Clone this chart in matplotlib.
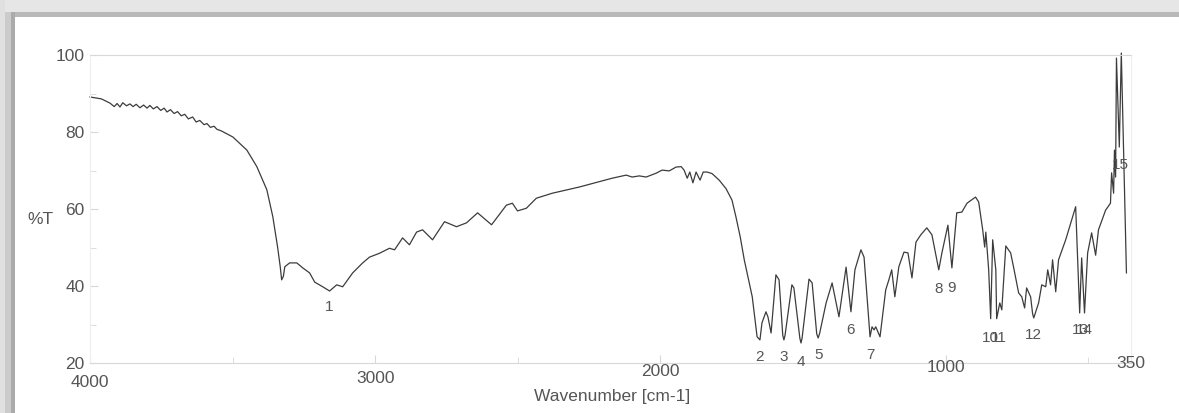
import matplotlib
matplotlib.use("Agg")
import matplotlib.pyplot as plt
from matplotlib.patches import Rectangle
from matplotlib.ticker import FixedLocator

plt.rcParams.update({
    "font.family": ["Liberation Sans", "DejaVu Sans"],
    "font.size": 12.5,
})

TEXT_COLOR = "#555555"
LINE_COLOR = "#3c3c3c"
FRAME_COLOR = "#d8d8d8"

# IR spectrum: wavenumber (cm-1) and transmittance (%T)
wavenumber = [
    4000, 3960, 3930, 3915, 3905, 3895, 3885, 3872, 3860, 3849, 3838, 3825,
    3812, 3800, 3790, 3778, 3765, 3752, 3740, 3730, 3718, 3705, 3693, 3680,
    3668, 3655, 3640, 3628, 3615, 3600, 3590, 3578, 3565, 3555, 3540, 3499,
    3450, 3415, 3380, 3359, 3342, 3333, 3328, 3322, 3317, 3300, 3275, 3254,
    3230, 3212, 3184, 3160, 3135, 3114, 3079, 3044, 3020, 2985, 2950, 2932,
    2904, 2880, 2855, 2834, 2799, 2757, 2715, 2680, 2641, 2592, 2540, 2519,
    2501, 2470, 2435, 2379, 2285, 2169, 2120, 2099, 2074, 2050, 2015, 1994,
    1969, 1945, 1927, 1917, 1906, 1897, 1886, 1875, 1861, 1850, 1836, 1819,
    1794, 1770, 1749, 1735, 1720, 1706, 1696, 1678, 1661, 1651, 1644, 1630,
    1623, 1612, 1595, 1584, 1571, 1567, 1563, 1539, 1532, 1511, 1507, 1503,
    1479, 1468, 1452, 1447, 1442, 1419,
    1398, 1374, 1349, 1332, 1318, 1297, 1286, 1265, 1258, 1251, 1245, 1230,
    1210, 1199, 1189, 1178, 1164, 1146, 1132, 1118, 1104, 1087, 1066, 1048,
    1024, 1013, 992, 978, 961, 943, 925, 895, 884, 870, 863, 859,
    849, 842, 835, 824, 821, 810, 803, 789, 772, 762, 744, 733,
    723, 716, 702, 695, 691, 687, 674, 663, 649, 642, 632, 625, 614, 604,
    579, 544, 530, 523, 513, 502, 488, 474, 464, 439, 422, 418,
    411, 408, 404, 401, 391, 384, 366,
]
transmittance = [
    89.1, 88.6, 87.5, 86.6, 87.4, 86.5, 87.6, 86.8, 87.3, 86.6, 87.2, 86.3,
    87.0, 86.2, 86.9, 86.0, 86.6, 85.6, 86.2, 85.2, 85.8, 84.8, 85.3, 84.2,
    84.6, 83.4, 83.9, 82.6, 83.0, 81.9, 82.2, 81.2, 81.5, 80.7, 80.3, 78.7,
    75.3, 71.0, 65.0, 58.0, 50.0, 45.0, 41.6, 42.5, 45.0, 46.0, 46.0, 44.7,
    43.4, 41.0, 39.8, 38.7, 40.3, 39.8, 43.4, 46.0, 47.5, 48.5, 49.8, 49.4,
    52.5, 50.7, 54.0, 54.6, 52.0, 56.7, 55.4, 56.4, 59.0, 55.9, 61.0, 61.5,
    59.5, 60.2, 62.8, 64.1, 65.7, 68.0, 68.8, 68.3, 68.6, 68.3, 69.3, 70.1,
    69.9, 70.9, 71.0, 70.1, 68.0, 69.6, 66.8, 69.6, 67.5, 69.6, 69.6, 69.2,
    67.5, 65.3, 62.3, 57.9, 52.7, 46.8, 43.4, 37.2, 26.8, 26.0, 30.4, 33.3,
    32.0, 27.8, 42.9, 41.6, 27.2, 26.0, 27.2, 40.3, 39.5, 26.4, 25.2, 26.6,
    41.8, 40.8, 27.6, 26.5, 27.6, 35.6,
    40.8, 32.0, 44.9, 33.3, 44.2, 49.4, 47.5, 26.8, 29.4, 28.6, 29.4, 26.8,
    39.0, 41.6, 44.2, 37.2, 45.0, 48.8, 48.6, 42.1, 51.4, 53.3, 55.1, 53.3,
    44.2, 48.6, 55.8, 44.7, 59.0, 59.2, 61.5, 63.1, 61.8, 54.6, 50.1, 54.0,
    44.2, 31.5, 52.0, 44.2, 31.5, 35.6, 33.8, 50.4, 48.6, 45.0, 38.2, 37.2,
    34.3, 39.5, 37.2, 32.8, 31.7, 32.6, 35.6, 40.3, 39.8, 44.2, 40.3, 46.8,
    38.5, 46.8,
    52.0, 60.6, 33.0, 47.3, 33.0, 48.6, 53.8, 48.0, 54.6, 59.7, 61.5, 69.4,
    64.1, 75.3, 68.3, 99.2, 76.1, 100.5, 43.4,
]

# numbered band labels
peak_numbers = ["1", "2", "3", "4", "5", "6", "7", "8", "9", "10", "11",
                "12", "13", "14", "15"]
peak_label_wn = [3160, 1654, 1567, 1507, 1447, 1332, 1262, 1024, 978, 842,
                 814, 691, 527, 513, 387]
peak_label_t = [34.6, 21.6, 21.6, 20.3, 22.1, 28.6, 22.1, 39.2, 39.5, 26.5,
                26.5, 27.3, 28.6, 28.6, 71.4]

x_ticks = [4000, 3000, 2000, 1000, 350]
x_minor = [3500, 2500, 1500, 500]
y_ticks = [20, 40, 60, 80, 100]
y_minor = [30, 50, 70, 90]

W, H = 1179, 413
fig = plt.figure(figsize=(W / 100, H / 100), dpi=100)
fig.patch.set_facecolor("white")

# shaded frame along top and left edges
fig.patches.extend([
    Rectangle((0, 1 - 12 / H), 1, 12 / H, transform=fig.transFigure,
              facecolor="#e6e6e6", edgecolor="none", zorder=0),
    Rectangle((0, 1 - 17 / H), 1, 5 / H, transform=fig.transFigure,
              facecolor="#b9b9b9", edgecolor="none", zorder=0),
    Rectangle((0, 0), 5 / W, 1, transform=fig.transFigure,
              facecolor="#e0e0e0", edgecolor="none", zorder=0),
    Rectangle((5 / W, 0), 6 / W, 1 - 12 / H, transform=fig.transFigure,
              facecolor="#cbcbcb", edgecolor="none", zorder=0),
    Rectangle((11 / W, 0), 4 / W, 1 - 12 / H, transform=fig.transFigure,
              facecolor="#ababab", edgecolor="none", zorder=0),
])

ax = fig.add_axes([90 / W, 1 - 363 / H, 1041 / W, 308 / H])
ax.plot(wavenumber, transmittance, color=LINE_COLOR, lw=0.9, clip_on=False)
ax.set_xlim(4000, 350)
ax.set_ylim(20, 100)

for side in ["top", "bottom", "left", "right"]:
    ax.spines[side].set_color(FRAME_COLOR)
    ax.spines[side].set_linewidth(0.8)
ax.spines["left"].set_color("#eeeeee")
ax.spines["right"].set_color("#eeeeee")

ax.set_yticks(y_ticks)
ax.yaxis.set_minor_locator(FixedLocator(y_minor))
ax.set_xticks(x_ticks[:-1])
ax.set_xticklabels([])
ax.xaxis.set_minor_locator(FixedLocator(x_minor))
ax.tick_params(axis="both", which="both", direction="in", color=FRAME_COLOR,
               top=False, right=False)
ax.tick_params(axis="both", which="major", length=6)
ax.tick_params(axis="both", which="minor", length=4)
ax.tick_params(axis="y", labelsize=12.5, labelcolor=TEXT_COLOR, pad=4)

# x tick labels drawn by hand so the corner "4000" sits under "20"
label_drop = [-0.062, -0.049, -0.029, -0.013, 0.0]
for wn, dy in zip(x_ticks, label_drop):
    ax.text(wn, dy, str(wn), transform=ax.get_xaxis_transform(),
            ha="center", va="center", fontsize=12.5, color=TEXT_COLOR)

for num, wn, t in zip(peak_numbers, peak_label_wn, peak_label_t):
    ax.text(wn, t, num, ha="center", va="center", fontsize=11,
            color=TEXT_COLOR)

fig.text(40 / W, 1 - 220 / H, "%T", ha="center", va="center",
         fontsize=12.5, color=TEXT_COLOR)
fig.text(612 / W, 1 - 397 / H, "Wavenumber [cm-1]", ha="center",
         va="center", fontsize=12.5, color=TEXT_COLOR)

fig.savefig("out.png", dpi=100, facecolor=fig.get_facecolor())
